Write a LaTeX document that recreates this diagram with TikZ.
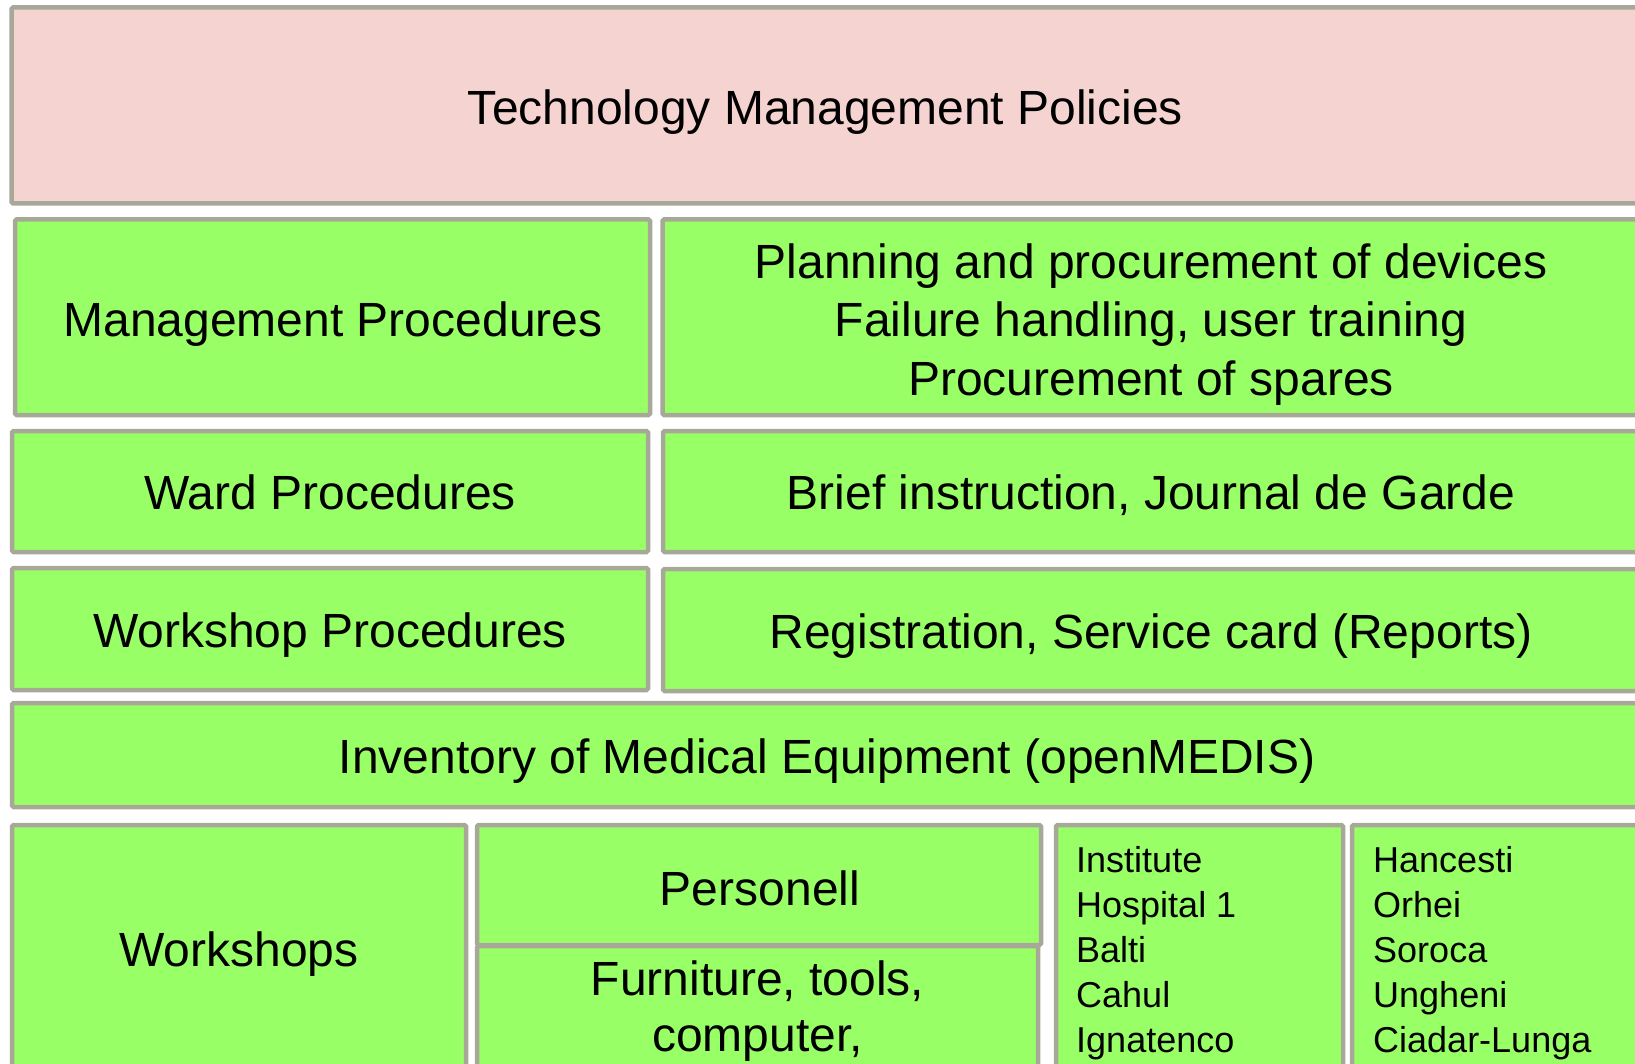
\documentclass[tikz,border=0pt]{standalone}
\usepackage{fontspec}
\setmainfont{Liberation Sans}
\definecolor{boxgreen}{HTML}{99FF66}
\definecolor{boxpink}{HTML}{F5D3D0}
\definecolor{boxedge}{HTML}{A8A898}
\begin{document}
\begin{tikzpicture}[x=1pt,y=-1pt,
  panel/.style={draw=boxedge, line width=4.5pt, rounded corners=1.5pt, fill=boxgreen, anchor=north west, inner sep=0pt, outer sep=0pt},
  pinkpanel/.style={panel, fill=boxpink},
  bigtxt/.style={anchor=base, inner sep=0pt, font=\fontsize{48}{57.6}\selectfont},
  smalltxt/.style={anchor=base west, inner sep=0pt, font=\fontsize{36}{45}\selectfont}]
\useasboundingbox (0,0) rectangle (1635,1064);
\begin{scope}
\clip (0,0) rectangle (1635,1064);
% boxes
\node[pinkpanel, minimum width=1628.5pt, minimum height=196pt] (policies) at (11.5,7.5) {};
\node[panel, minimum width=635pt, minimum height=195.5pt] (mgmt) at (15,219.5) {};
\node[panel, minimum width=977.5pt, minimum height=195.5pt] (plan) at (662.5,219.5) {};
\node[panel, minimum width=636pt, minimum height=121pt] (ward) at (12,431) {};
\node[panel, minimum width=977pt, minimum height=121pt] (brief) at (663,431) {};
\node[panel, minimum width=636pt, minimum height=122pt] (wproc) at (12,568) {};
\node[panel, minimum width=977pt, minimum height=122pt] (reg) at (663,569) {};
\node[panel, minimum width=1628pt, minimum height=104pt] (inv) at (12,703) {};
\node[panel, minimum width=454pt, minimum height=250pt] (wshops) at (12,825) {};
\node[panel, minimum width=564pt, minimum height=120pt] (pers) at (477,825) {};
\node[panel, minimum width=561pt, minimum height=174pt] (furn) at (477,946) {};
\node[panel, minimum width=287pt, minimum height=295pt] (inst) at (1056,825) {};
\node[panel, minimum width=348pt, minimum height=295pt] (hanc) at (1352,825) {};
% texts
\node[bigtxt] (tpolicies) at (825.5,125) {Technology Management Policies};
\node[bigtxt] (tmgmt) at (333,337) {Management Procedures};
\node[bigtxt] (tplan1) at (1151,279) {Planning and procurement of devices};
\node[bigtxt] (tplan2) at (1151,337) {Failure handling, user training};
\node[bigtxt] (tplan3) at (1151,395) {Procurement of spares};
\node[bigtxt] (tward) at (330,509) {Ward Procedures};
\node[bigtxt] (tbrief) at (1151,509) {Brief instruction, Journal de Garde};
\node[bigtxt] (twproc) at (330,647.5) {Workshop Procedures};
\node[bigtxt] (treg) at (1151,648) {Registration, Service card (Reports)};
\node[bigtxt] (tinv) at (827,773) {Inventory of Medical Equipment (openMEDIS)};
\node[bigtxt] (twshops) at (239,966) {Workshops};
\node[bigtxt] (tpers) at (760,905) {Personell};
\node[bigtxt] (tfurn1) at (757.5,995) {Furniture, tools,};
\node[bigtxt] (tfurn2) at (757.5,1051) {computer,};
\node[smalltxt] (ti1) at (1076,872) {Institute};
\node[smalltxt] (ti2) at (1076,917) {Hospital 1};
\node[smalltxt] (ti3) at (1076,962) {Balti};
\node[smalltxt] (ti4) at (1076,1007) {Cahul};
\node[smalltxt] (ti5) at (1076,1052) {Ignatenco};
\node[smalltxt] (th1) at (1373,872) {Hancesti};
\node[smalltxt] (th2) at (1373,917) {Orhei};
\node[smalltxt] (th3) at (1373,962) {Soroca};
\node[smalltxt] (th4) at (1373,1007) {Ungheni};
\node[smalltxt] (th5) at (1373,1052) {Ciadar-Lunga};
\end{scope}
\end{tikzpicture}
\end{document}
